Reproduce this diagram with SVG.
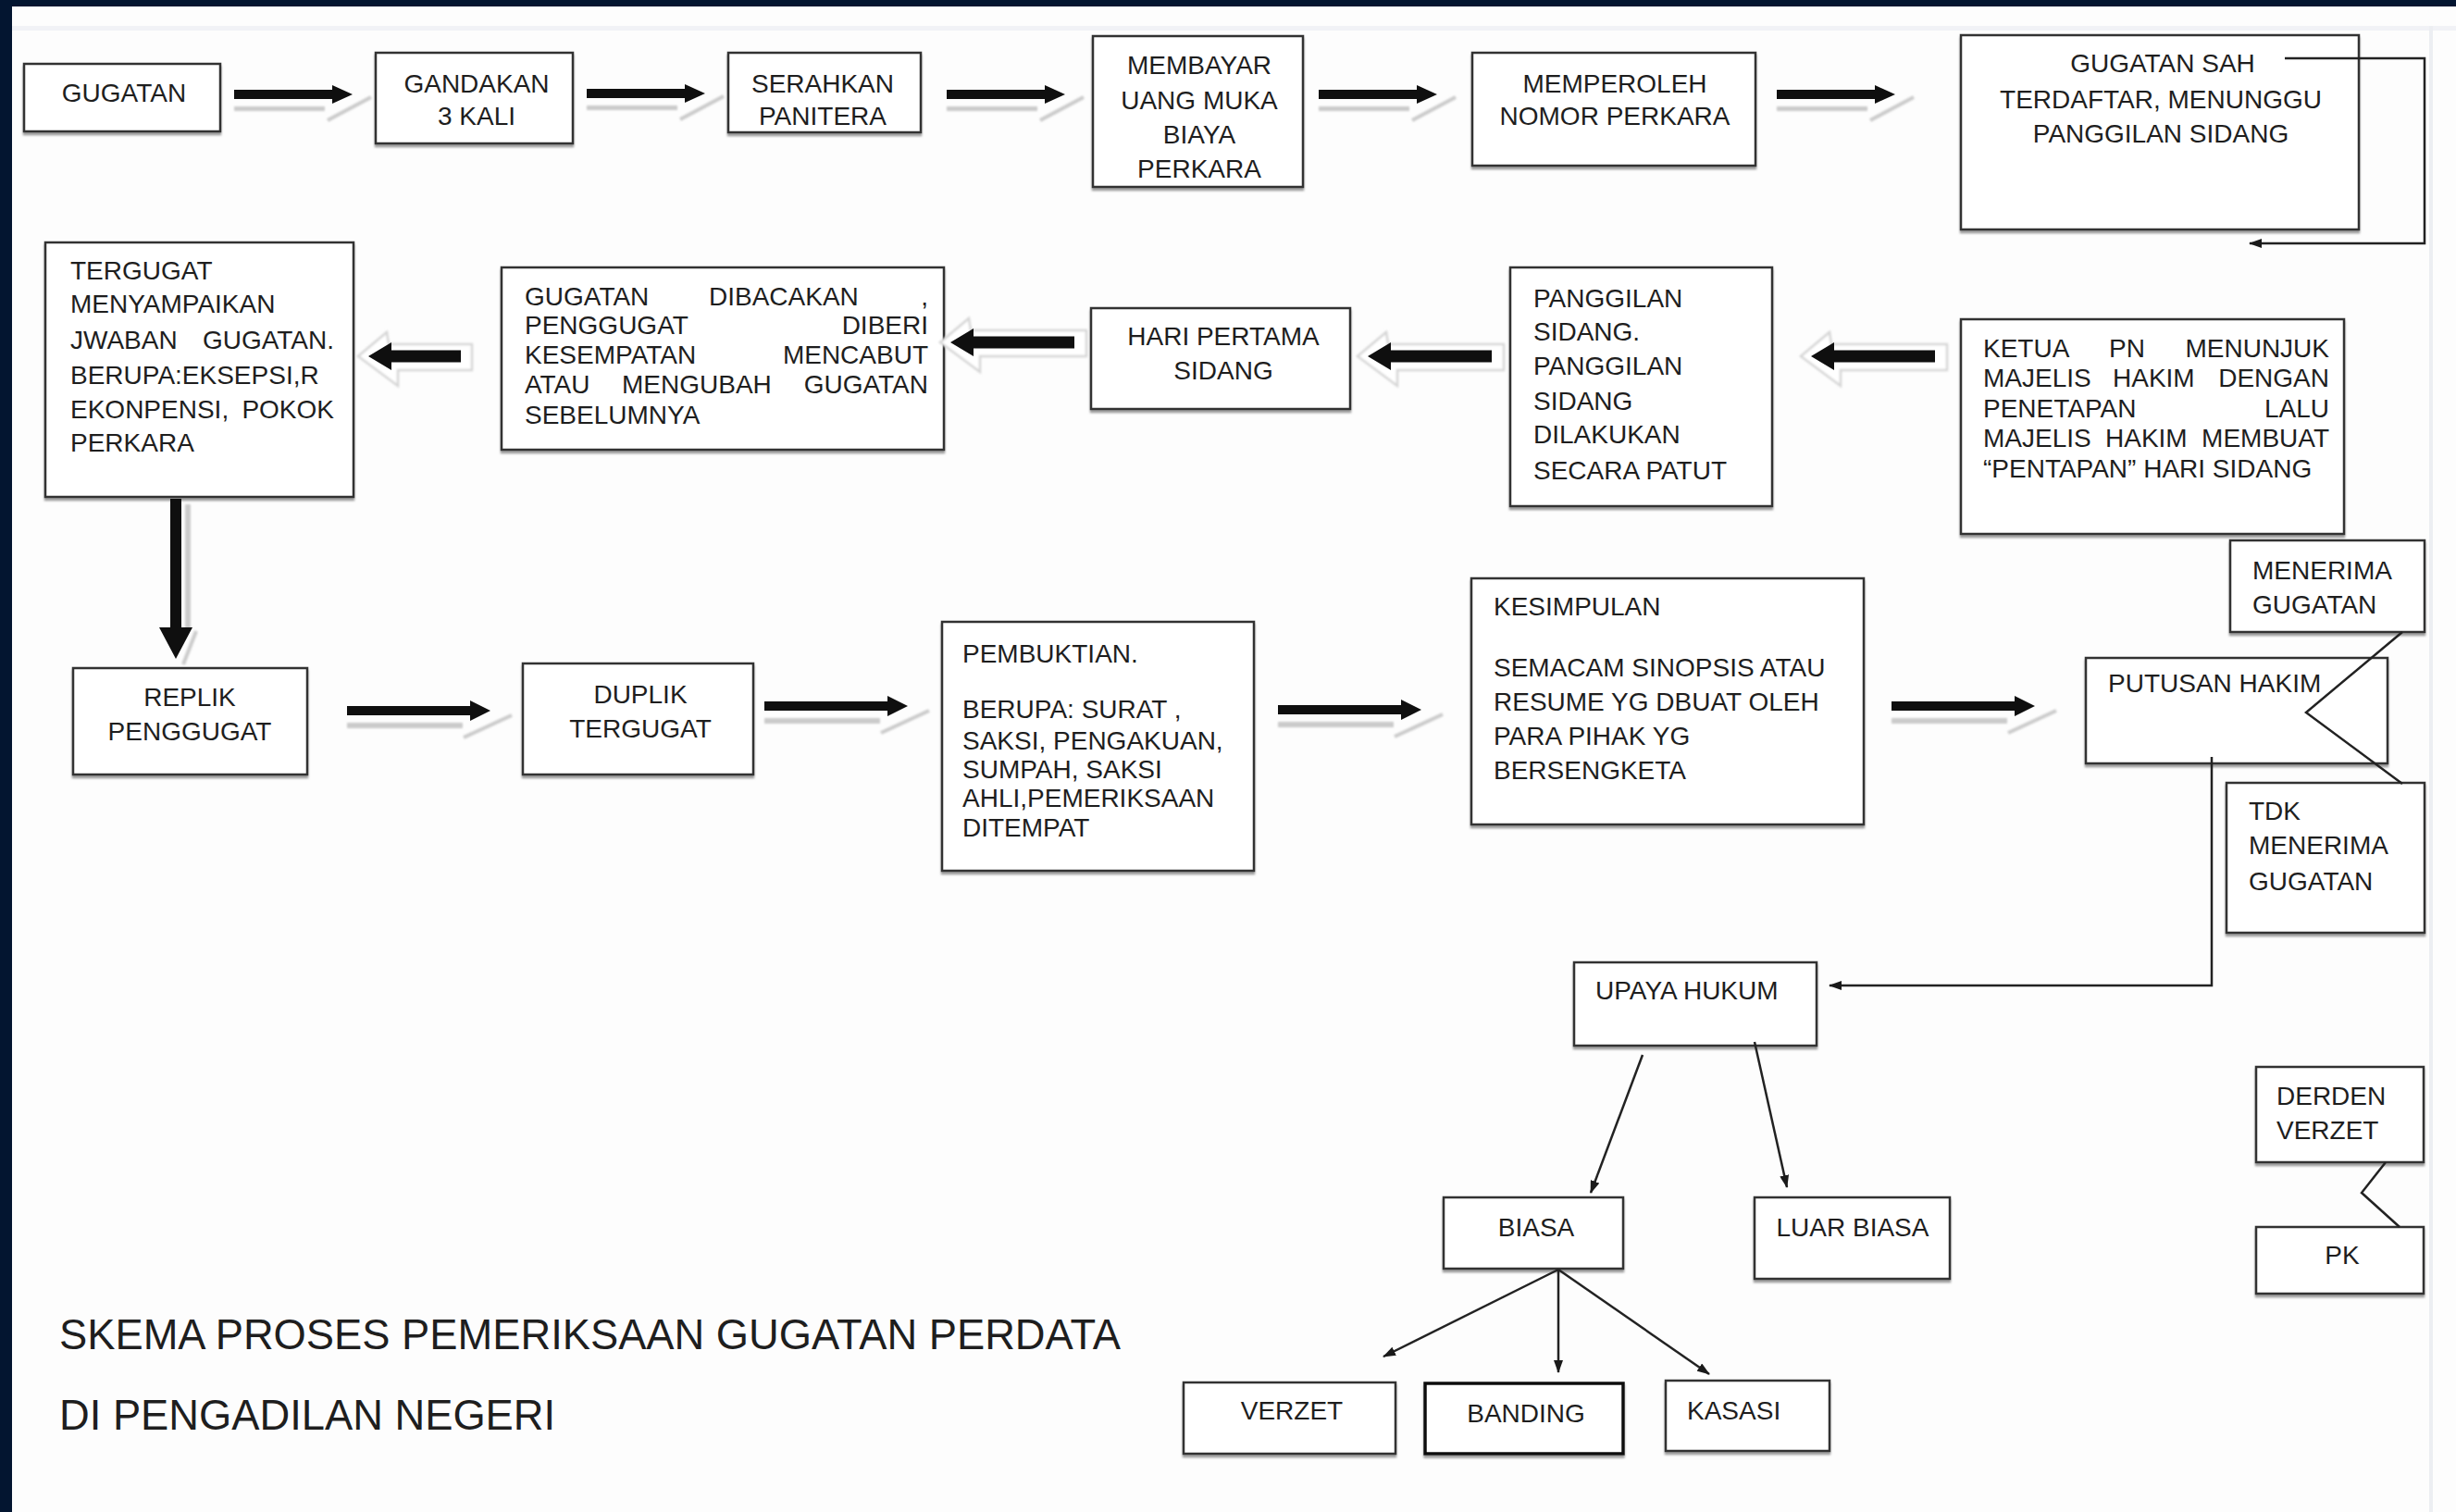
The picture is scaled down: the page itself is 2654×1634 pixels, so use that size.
<svg xmlns="http://www.w3.org/2000/svg" xmlns:xlink="http://www.w3.org/1999/xlink" width="2654" height="1634" viewBox="0 0 2654 1634">
  <style>
    .box { fill:#ffffff; stroke:#333333; stroke-width:2.5; filter:url(#boxShadow); }
    .bold { stroke:#111111; stroke-width:3.5; }
    .t { font-family:"Liberation Sans", Arial, Helvetica, sans-serif; font-size:28px; fill:#1e1e1e; }
    .c { text-anchor:middle; }
    .e { text-anchor:end; }
    .title { font-family:"Liberation Sans", Arial, Helvetica, sans-serif; font-size:45.3px; fill:#1e1e1e; }
    .wire { fill:none; stroke:#222222; stroke-width:2.5; }
    .blk { fill:#0f0f0f; }
    .ghost { fill:#cbcbcb; filter:url(#soft); }
    .ghostLine { fill:none; stroke:#cbcbcb; stroke-width:4; filter:url(#soft); }
    .halo { fill:#ffffff; stroke:#d6d6d6; stroke-width:2.5; filter:url(#soft); }
  </style>
  <defs>
    <filter id="boxShadow" x="-5%" y="-10%" width="110%" height="125%">
      <feDropShadow dx="0" dy="3" stdDeviation="1.2" flood-color="#7a7a7a" flood-opacity="0.75"/>
    </filter>
    <filter id="soft" x="-20%" y="-50%" width="140%" height="200%">
      <feGaussianBlur stdDeviation="1.3"/>
    </filter>
    <marker id="tip" viewBox="0 0 14 10" refX="13" refY="5" markerWidth="14" markerHeight="10" markerUnits="userSpaceOnUse" orient="auto">
      <path d="M0,0 L14,5 L0,10 Z" fill="#1a1a1a"/>
    </marker>
    <!-- short right-pointing block arrow, tail at origin -->
    <g id="arrowRightShort">
      <rect class="ghost" x="0" y="13" width="98" height="5"/>
      <line class="ghostLine" x1="101" y1="28" x2="148" y2="3"/>
      <path class="blk" d="M0,-5 H106 V-10 L128,0 L106,10 V5 H0 Z"/>
    </g>
    <!-- long right-pointing block arrow -->
    <g id="arrowRightLong">
      <rect class="ghost" x="0" y="13" width="125" height="6"/>
      <line class="ghostLine" x1="126" y1="29" x2="178" y2="5"/>
      <path class="blk" d="M0,-5 H133 V-11 L155,0 L133,11 V5 H0 Z"/>
    </g>
    <!-- left-pointing block arrow, tip at origin -->
    <g id="arrowLeft">
      <polygon class="halo" points="-11,0 20,-26 22,-13 147,-13 147,15 32,15 32,32"/>
      <path class="blk" d="M0,0 L25,-15 V-6.5 H134 V6.5 H25 V15 Z"/>
    </g>
    <g id="arrowLeftShort">
      <polygon class="halo" points="-11,0 20,-26 22,-13 112,-13 112,15 32,15 32,32"/>
      <path class="blk" d="M0,0 L25,-15 V-6.5 H100 V6.5 H25 V15 Z"/>
    </g>
  </defs>

  <!-- page -->
  <rect x="0" y="0" width="2654" height="1634" fill="#fdfdfd"/>
  <rect x="0" y="28" width="2654" height="5" fill="#f1f2f6"/>
  <rect x="2625" y="28" width="4" height="1606" fill="#eceef2"/>
  <rect x="0" y="0" width="2654" height="7" fill="#031530"/>
  <rect x="0" y="0" width="13" height="1634" fill="#031530"/>

  <!-- row 1 -->
  <g id="gugatan">
    <rect class="box" x="26" y="69" width="212" height="73"/>
    <text class="t c" x="134" y="110">GUGATAN</text>
  </g>
  <g id="gandakan">
    <rect class="box" x="406" y="57" width="213" height="98"/>
    <text class="t c" x="515" y="100">GANDAKAN</text>
    <text class="t c" x="515" y="135">3 KALI</text>
  </g>
  <g id="serahkan">
    <rect class="box" x="787" y="57" width="208" height="86"/>
    <text class="t c" x="889" y="100">SERAHKAN</text>
    <text class="t c" x="889" y="135">PANITERA</text>
  </g>
  <g id="membayar">
    <rect class="box" x="1181" y="39" width="227" height="163"/>
    <text class="t c" x="1296" y="80">MEMBAYAR</text>
    <text class="t c" x="1296" y="118">UANG MUKA</text>
    <text class="t c" x="1296" y="155">BIAYA</text>
    <text class="t c" x="1296" y="192">PERKARA</text>
  </g>
  <g id="memperoleh">
    <rect class="box" x="1591" y="57" width="306" height="122"/>
    <text class="t c" x="1745" y="100">MEMPEROLEH</text>
    <text class="t c" x="1745" y="135">NOMOR PERKARA</text>
  </g>
  <g id="gugatan-sah">
    <rect class="box" x="2119" y="38" width="430" height="210"/>
    <text class="t c" x="2337" y="78">GUGATAN SAH</text>
    <text class="t c" x="2335" y="117">TERDAFTAR, MENUNGGU</text>
    <text class="t c" x="2335" y="154">PANGGILAN SIDANG</text>
  </g>

  <!-- row 2 -->
  <g id="tergugat-jawaban">
    <rect class="box" x="49" y="262" width="333" height="275"/>
    <text class="t" x="76" y="302">TERGUGAT</text>
    <text class="t" x="76" y="338">MENYAMPAIKAN</text>
    <text class="t" x="76" y="377">JWABAN</text>
    <text class="t e" x="361" y="377">GUGATAN.</text>
    <text class="t" x="76" y="415">BERUPA:EKSEPSI,R</text>
    <text class="t" x="76" y="452">EKONPENSI,</text>
    <text class="t e" x="361" y="452">POKOK</text>
    <text class="t" x="76" y="488">PERKARA</text>
  </g>
  <g id="gugatan-dibacakan">
    <rect class="box" x="542" y="289" width="478" height="197"/>
    <text class="t" x="567" y="330">GUGATAN</text>
    <text class="t" x="766" y="330">DIBACAKAN</text>
    <text class="t e" x="1003" y="330">,</text>
    <text class="t" x="567" y="361">PENGGUGAT</text>
    <text class="t e" x="1003" y="361">DIBERI</text>
    <text class="t" x="567" y="393">KESEMPATAN</text>
    <text class="t e" x="1003" y="393">MENCABUT</text>
    <text class="t" x="567" y="425">ATAU</text>
    <text class="t" x="672" y="425">MENGUBAH</text>
    <text class="t e" x="1003" y="425">GUGATAN</text>
    <text class="t" x="567" y="458">SEBELUMNYA</text>
  </g>
  <g id="hari-pertama">
    <rect class="box" x="1179" y="333" width="280" height="109"/>
    <text class="t c" x="1322" y="373">HARI PERTAMA</text>
    <text class="t c" x="1322" y="410">SIDANG</text>
  </g>
  <g id="panggilan">
    <rect class="box" x="1632" y="289" width="283" height="258"/>
    <text class="t" x="1657" y="332">PANGGILAN</text>
    <text class="t" x="1657" y="368">SIDANG.</text>
    <text class="t" x="1657" y="405">PANGGILAN</text>
    <text class="t" x="1657" y="443">SIDANG</text>
    <text class="t" x="1657" y="479">DILAKUKAN</text>
    <text class="t" x="1657" y="518">SECARA PATUT</text>
  </g>
  <g id="ketua-pn">
    <rect class="box" x="2119" y="345" width="414" height="232"/>
    <text class="t" x="2143" y="386">KETUA</text>
    <text class="t" x="2279" y="386">PN</text>
    <text class="t e" x="2517" y="386">MENUNJUK</text>
    <text class="t" x="2143" y="418">MAJELIS</text>
    <text class="t" x="2283" y="418">HAKIM</text>
    <text class="t e" x="2517" y="418">DENGAN</text>
    <text class="t" x="2143" y="451">PENETAPAN</text>
    <text class="t e" x="2517" y="451">LALU</text>
    <text class="t" x="2143" y="483">MAJELIS</text>
    <text class="t" x="2275" y="483">HAKIM</text>
    <text class="t e" x="2517" y="483">MEMBUAT</text>
    <text class="t" x="2143" y="516">“PENTAPAN” HARI SIDANG</text>
  </g>

  <!-- row 3 -->
  <g id="replik">
    <rect class="box" x="79" y="722" width="253" height="115"/>
    <text class="t c" x="205" y="763">REPLIK</text>
    <text class="t c" x="205" y="800">PENGGUGAT</text>
  </g>
  <g id="duplik">
    <rect class="box" x="565" y="717" width="249" height="120"/>
    <text class="t c" x="692" y="760">DUPLIK</text>
    <text class="t c" x="692" y="797">TERGUGAT</text>
  </g>
  <g id="pembuktian">
    <rect class="box" x="1018" y="672" width="337" height="269"/>
    <text class="t" x="1040" y="716">PEMBUKTIAN.</text>
    <text class="t" x="1040" y="776">BERUPA: SURAT ,</text>
    <text class="t" x="1040" y="810">SAKSI, PENGAKUAN,</text>
    <text class="t" x="1040" y="841">SUMPAH, SAKSI</text>
    <text class="t" x="1040" y="872">AHLI,PEMERIKSAAN</text>
    <text class="t" x="1040" y="904">DITEMPAT</text>
  </g>
  <g id="kesimpulan">
    <rect class="box" x="1590" y="625" width="424" height="266"/>
    <text class="t" x="1614" y="665">KESIMPULAN</text>
    <text class="t" x="1614" y="731">SEMACAM SINOPSIS ATAU</text>
    <text class="t" x="1614" y="768">RESUME YG DBUAT OLEH</text>
    <text class="t" x="1614" y="805">PARA PIHAK YG</text>
    <text class="t" x="1614" y="842">BERSENGKETA</text>
  </g>
  <g id="menerima">
    <rect class="box" x="2410" y="584" width="210" height="99"/>
    <text class="t" x="2434" y="626">MENERIMA</text>
    <text class="t" x="2434" y="663">GUGATAN</text>
  </g>
  <g id="putusan">
    <rect class="box" x="2254" y="711" width="326" height="114"/>
    <text class="t" x="2278" y="748">PUTUSAN HAKIM</text>
  </g>
  <g id="tdk-menerima">
    <rect class="box" x="2406" y="846" width="214" height="162"/>
    <text class="t" x="2430" y="886">TDK</text>
    <text class="t" x="2430" y="923">MENERIMA</text>
    <text class="t" x="2430" y="962">GUGATAN</text>
  </g>

  <!-- legal remedies -->
  <g id="upaya-hukum">
    <rect class="box" x="1701" y="1040" width="262" height="90"/>
    <text class="t" x="1724" y="1080">UPAYA HUKUM</text>
  </g>
  <g id="biasa">
    <rect class="box" x="1560" y="1294" width="194" height="77"/>
    <text class="t c" x="1660" y="1336">BIASA</text>
  </g>
  <g id="luar-biasa">
    <rect class="box" x="1896" y="1294" width="211" height="88"/>
    <text class="t c" x="2002" y="1336">LUAR BIASA</text>
  </g>
  <g id="verzet">
    <rect class="box" x="1279" y="1494" width="229" height="77"/>
    <text class="t c" x="1396" y="1534">VERZET</text>
  </g>
  <g id="banding">
    <rect class="box bold" x="1540" y="1495" width="214" height="76"/>
    <text class="t c" x="1649" y="1537">BANDING</text>
  </g>
  <g id="kasasi">
    <rect class="box" x="1800" y="1492" width="177" height="76"/>
    <text class="t" x="1823" y="1534">KASASI</text>
  </g>
  <g id="derden-verzet">
    <rect class="box" x="2438" y="1153" width="181" height="103"/>
    <text class="t" x="2460" y="1194">DERDEN</text>
    <text class="t" x="2460" y="1231">VERZET</text>
  </g>
  <g id="pk">
    <rect class="box" x="2438" y="1326" width="181" height="72"/>
    <text class="t c" x="2531" y="1366">PK</text>
  </g>

  <!-- connectors, drawn over the boxes where they cross them -->
  <g id="connectors">
    <use xlink:href="#arrowRightShort" x="253" y="102"/>
    <use xlink:href="#arrowRightShort" x="634" y="101"/>
    <use xlink:href="#arrowRightShort" x="1023" y="102"/>
    <use xlink:href="#arrowRightShort" x="1425" y="102"/>
    <use xlink:href="#arrowRightShort" x="1920" y="102"/>

    <polyline class="wire" points="2469,63 2620,63 2620,263 2431,263" marker-end="url(#tip)"/>

    <use xlink:href="#arrowLeft" x="1957" y="385"/>
    <use xlink:href="#arrowLeft" x="1478" y="385"/>
    <use xlink:href="#arrowLeft" x="1027" y="370"/>
    <use xlink:href="#arrowLeftShort" x="398" y="385"/>

    <!-- downward block arrow -->
    <rect class="ghost" x="200" y="545" width="6" height="135"/>
    <line class="ghostLine" x1="212" y1="682" x2="198" y2="718"/>
    <path class="blk" d="M184,539 H196 V678 H208 L190,712 L172,678 H184 Z"/>

    <use xlink:href="#arrowRightLong" x="375" y="768"/>
    <use xlink:href="#arrowRightLong" x="826" y="763"/>
    <use xlink:href="#arrowRightLong" x="1381" y="767"/>
    <use xlink:href="#arrowRightLong" x="2044" y="763"/>

    <polyline class="wire" points="2596,683 2492,770 2596,847"/>
    <polyline class="wire" points="2390,818 2390,1065 1977,1065" marker-end="url(#tip)"/>

    <line class="wire" x1="1775" y1="1140" x2="1719" y2="1289" marker-end="url(#tip)"/>
    <line class="wire" x1="1896" y1="1126" x2="1931" y2="1283" marker-end="url(#tip)"/>
    <line class="wire" x1="1684" y1="1372" x2="1495" y2="1466" marker-end="url(#tip)"/>
    <line class="wire" x1="1684" y1="1372" x2="1684" y2="1483" marker-end="url(#tip)"/>
    <line class="wire" x1="1684" y1="1372" x2="1847" y2="1485" marker-end="url(#tip)"/>

    <polyline class="wire" points="2578,1256 2552,1289 2593,1326"/>
  </g>

  <!-- caption -->
  <g id="caption">
    <text class="title" x="64" y="1458">SKEMA PROSES PEMERIKSAAN GUGATAN PERDATA</text>
    <text class="title" x="64" y="1545">DI PENGADILAN NEGERI</text>
  </g>
</svg>
